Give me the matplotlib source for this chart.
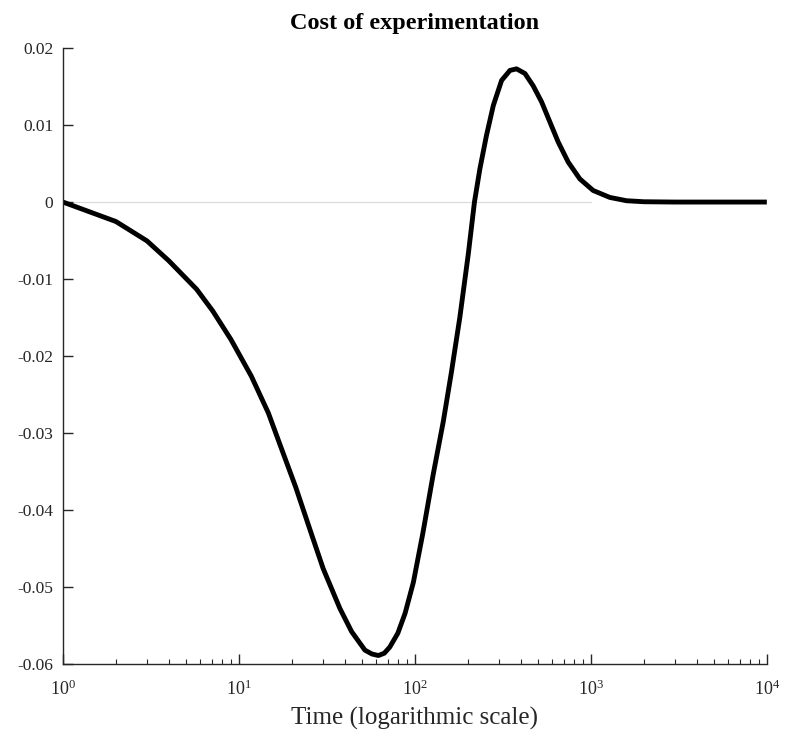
import matplotlib
matplotlib.use('Agg')
import matplotlib.pyplot as plt
from matplotlib.ticker import FuncFormatter, LogLocator, FixedLocator

plt.rcParams['font.family'] = ['Liberation Serif', 'DejaVu Serif']
plt.rcParams['mathtext.fontset'] = 'custom'
plt.rcParams['mathtext.rm'] = 'Liberation Serif'
plt.rcParams['axes.unicode_minus'] = False

# values (time, cost)
time = [1, 2, 3, 4, 5.75, 7.1, 9, 11.75, 14.7, 17.3, 21, 25.9, 30.1, 37.5, 43.7,
        52, 57, 62, 67, 72, 80, 88, 98, 111, 127, 145, 161, 180, 201, 218,
        234, 255, 279, 311, 347, 378, 422, 470, 525, 585, 652, 743, 866, 1031,
        1282, 1595, 2000, 3000, 5000, 10000]
cost = [0, -0.00253, -0.00504, -0.00764, -0.01133, -0.01415, -0.01784, -0.0226,
        -0.0274, -0.0318, -0.037, -0.0432, -0.0476, -0.0528, -0.0558,
        -0.0582, -0.0587, -0.0589, -0.0586, -0.0578, -0.0560, -0.0534, -0.0494,
        -0.0430, -0.0354, -0.0285, -0.0222, -0.0150, -0.0068, 0.0,
        0.0043, 0.00863, 0.01254, 0.0158, 0.0171, 0.0173, 0.0167, 0.0151, 0.0130,
        0.0104, 0.0078, 0.0052, 0.0030, 0.0015,
        0.0006, 0.00017, 0.00004, 0, 0, 0]

fig = plt.figure(figsize=(7.93, 7.35), dpi=100)
ax = fig.add_axes([0.0794, 0.0966, 0.8876, 0.838])

ax.plot([1, 1000], [0, 0], color='#d9d9d9', lw=0.8, zorder=1)
ax.plot(time, cost, color='black', lw=3.5, zorder=2,
        solid_capstyle='butt', solid_joinstyle='round')

ax.set_xscale('log')
ax.set_xlim(1, 1e4)
ax.set_ylim(-0.06, 0.02)
ax.yaxis.set_major_locator(FixedLocator([-0.06, -0.05, -0.04, -0.03, -0.02, -0.01, 0, 0.01, 0.02]))
ax.yaxis.set_major_formatter(FuncFormatter(lambda v, _: '%g' % round(v, 4)))
ax.xaxis.set_major_locator(LogLocator(base=10, numticks=10))
ax.xaxis.set_minor_locator(LogLocator(base=10, subs=range(2, 10), numticks=10))

for s in ['top', 'right']:
    ax.spines[s].set_visible(False)
for s in ['left', 'bottom']:
    ax.spines[s].set_linewidth(1.0)
    ax.spines[s].set_color('#262626')

ax.tick_params(which='major', direction='in', length=7, width=1, labelsize=12.5, colors='#262626')
ax.tick_params(which='minor', direction='in', length=3.5, width=0.8, colors='#262626')
ax.tick_params(axis='x', which='major', pad=11, labelsize=13)
ax.tick_params(axis='y', pad=7)

ax.set_title('Cost of experimentation', fontsize=17.5, fontweight='bold', pad=14)
ax.set_xlabel('Time (logarithmic scale)', fontsize=18, color='#262626', labelpad=6)

fig.savefig('out.png', dpi=100)
